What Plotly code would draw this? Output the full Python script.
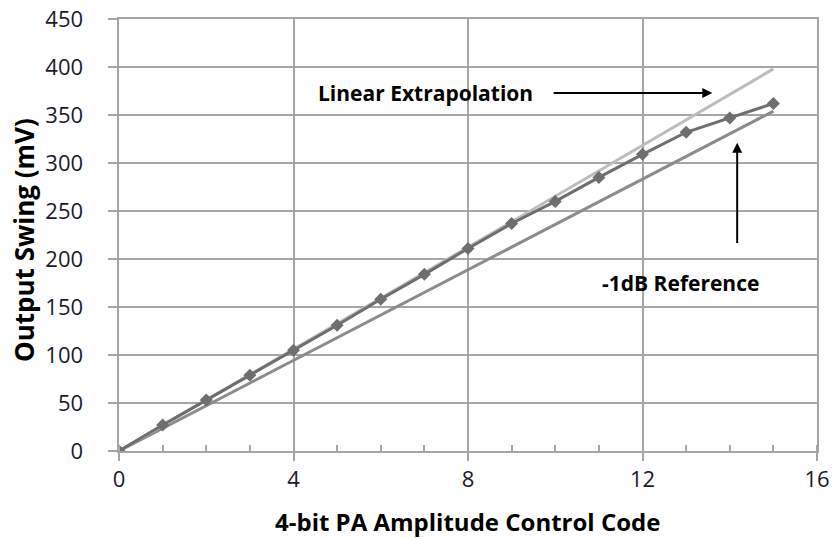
import plotly.graph_objects as go

codes = list(range(16))
measured = [0, 27, 53, 79, 105, 131, 158, 184, 211, 237, 260, 285, 309, 332, 347, 362]
extrap_x = [0, 15]
extrap_y = [0, 398]
ref_x = [0, 15]
ref_y = [0, 354]

FONT = "'Open Sans', sans-serif"

fig = go.Figure()
fig.add_trace(go.Scatter(x=ref_x, y=ref_y, mode="lines",
                         line=dict(color="#8c8c8c", width=3), showlegend=False))
fig.add_trace(go.Scatter(x=extrap_x, y=extrap_y, mode="lines",
                         line=dict(color="#bdbdbd", width=3), showlegend=False))
fig.add_trace(go.Scatter(x=codes, y=measured, mode="lines+markers",
                         line=dict(color="#6e6e6e", width=3),
                         marker=dict(symbol="diamond", size=10, color="#6e6e6e"),
                         showlegend=False))

fig.add_annotation(x=7.02, y=373, text="<b>Linear Extrapolation</b>", showarrow=False,
                   font=dict(size=21, color="black", family=FONT))
fig.add_annotation(x=13.6, y=373, ax=9.93, ay=373, xref="x", yref="y", axref="x", ayref="y",
                   showarrow=True, arrowhead=2, arrowwidth=2, arrowcolor="black", text="")
fig.add_annotation(x=12.87, y=175, text="<b>-1dB Reference</b>", showarrow=False,
                   font=dict(size=21, color="black", family=FONT))
fig.add_annotation(x=14.17, y=321, ax=14.17, ay=215, xref="x", yref="y", axref="x", ayref="y",
                   showarrow=True, arrowhead=2, arrowwidth=2, arrowcolor="black", text="")

# axis titles
fig.add_annotation(x=0, y=0.5, xref="paper", yref="paper", xanchor="center", yanchor="middle",
                   xshift=-95, yshift=-5, textangle=-90, showarrow=False,
                   text="<b>Output Swing (mV)</b>", font=dict(size=26, color="black", family=FONT))
fig.add_annotation(x=0.5, y=0, xref="paper", yref="paper", xanchor="center", yanchor="middle",
                   xshift=-1, yshift=-70, showarrow=False,
                   text="<b>4-bit PA Amplitude Control Code</b>",
                   font=dict(size=24, color="black", family=FONT))

fig.update_layout(
    width=833, height=538,
    margin=dict(l=119, r=16, t=19, b=87),
    plot_bgcolor="white", paper_bgcolor="white",
    font=dict(family=FONT, size=22, color="#1a1a2e"),
)
fig.update_xaxes(range=[0, 16], tickvals=[0, 4, 8, 12, 16], showgrid=True,
                 gridcolor="#a6a6a6", gridwidth=1.5, automargin=False,
                 showline=True, linecolor="#a6a6a6", linewidth=1.5, mirror=True,
                 ticks="outside", ticklen=8, tickcolor="#a6a6a6", tickwidth=1.5,
                 tickfont=dict(size=22),
                 minor=dict(dtick=1, ticks="inside", ticklen=6, tickcolor="#a6a6a6", showgrid=False),
                 zeroline=False)
fig.update_yaxes(range=[0, 450], dtick=50, showgrid=True,
                 gridcolor="#a6a6a6", gridwidth=1.5, automargin=False,
                 showline=True, linecolor="#a6a6a6", linewidth=1.5, mirror=True,
                 ticks="outside", ticklen=9, tickcolor="#a6a6a6", tickwidth=1.5,
                 ticksuffix="\u00a0\u00a0\u00a0\u2009", tickfont=dict(size=22),
                 zeroline=False)

fig.write_html("out.html")
